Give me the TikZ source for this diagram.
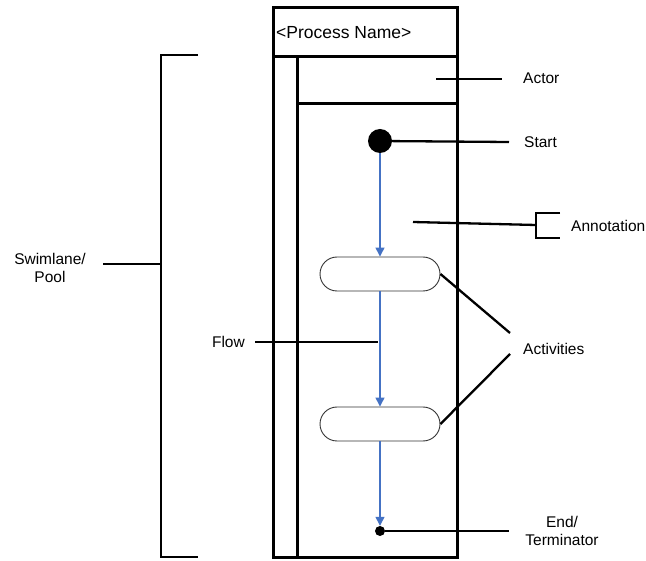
\documentclass[tikz,border=0pt]{standalone}
\usepackage{fontspec}
\setmainfont{Liberation Sans}
\usetikzlibrary{shapes.geometric, arrows.meta, positioning, calc}
\definecolor{flowblue}{RGB}{68,114,196}
\tikzstyle{lane} = [line width=3pt]
\tikzstyle{activity} = [draw=black!80, line width=0.9pt, rounded corners=17pt, minimum width=120pt, minimum height=34pt]
\tikzstyle{callout} = [line width=2.3pt]
\tikzstyle{note} = [font=\fontsize{15.5}{18.5}\selectfont, inner sep=0pt, align=center]
\tikzstyle{flow} = [draw=flowblue, line width=1.3pt, -{Triangle[length=9pt,width=9pt]}]

\begin{document}
\begin{tikzpicture}[x=1pt, y=-1pt]
        \useasboundingbox (0,0) rectangle (646,561);

        % Pool
        \draw[lane] (273,8) rectangle (457,557);
        \draw[lane] (273,57) -- (457,57);
        \draw[lane] (297,57) -- (297,557);
        \draw[lane] (297,104) -- (457,104);
        \node[anchor=west, inner sep=0pt, font=\fontsize{17.5}{20}\selectfont] (process) at (276,33) {<Process Name>};

        % Flow nodes
        \node[circle, fill=black, minimum size=24pt, inner sep=0pt] (start) at (380,141) {};
        \node[activity] (act1) at (380,274) {};
        \node[activity] (act2) at (380,424) {};
        \node[circle, fill=black, minimum size=10pt, inner sep=0pt] (end) at (380,531) {};

        % Arrows
        \draw[flow] (start) -- (act1);
        \draw[flow] (act1) -- (act2);
        \draw[flow] (act2) -- (end);

        % Labels
        \node[note, anchor=west] (actor) at (523,78) {Actor};
        \node[note, anchor=west] (startlbl) at (524,142) {Start};
        \node[note, anchor=west] (annot) at (571,226) {Annotation};
        \node[note, anchor=west] (acts) at (523,349) {Activities};
        \node[note, anchor=east] (flowlbl) at (245,342) {Flow};
        \node[note] (endlbl) at (562,531) {End/\\Terminator};
        \node[note] (pool) at (50,268) {Swimlane/\\Pool};

        % Callouts
        \coordinate (actorpt) at (436,79);
        \coordinate (actorend) at (502,79);
        \draw[callout] (actorpt) -- (actorend);
        \coordinate (startend) at (509,142);
        \draw[callout] (start) -- (startend);
        \coordinate (annotpt) at (413,222);
        \coordinate (annotmid) at (536,225);
        \draw[callout] (annotpt) -- (annotmid);
        \draw[callout] (560,213) -- (536,213) -- (536,238) -- (560,238);
        \coordinate (actsa) at (510,333);
        \coordinate (actsb) at (510,354);
        \draw[callout] (act1.east) -- (actsa);
        \draw[callout] (act2.east) -- (actsb);
        \coordinate (flowpt) at (378,342);
        \draw[callout] ($(flowlbl.east)+(10,0)$) -- (flowpt);
        \coordinate (endpt) at (509,531);
        \draw[callout] (end) -- (endpt);
        \draw[callout] (198,55) -- (161,55) -- (161,557) -- (198,557);
        \draw[callout] (103,264) -- (161,264);
    \end{tikzpicture}
\end{document}
